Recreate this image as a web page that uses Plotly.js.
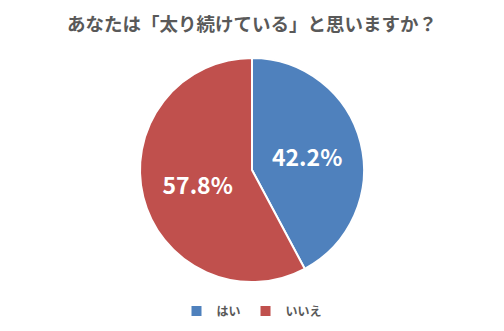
<!DOCTYPE html>
<html><head><meta charset="utf-8">
<script src="https://cdn.plot.ly/plotly-3.0.1.min.js"></script>
<style>html,body{margin:0;padding:0;background:#fff}</style>
</head><body><div id="chart" style="width:504px;height:331px"></div>
<script>
const labels = ["はい", "いいえ"];
const values = [42.2, 57.8];
const colors = ["#4F81BD", "#C0504D"];
const font = '"Noto Sans CJK JP", "Noto Sans", sans-serif';
Plotly.newPlot("chart", [{
  type: "pie",
  labels: labels,
  values: values,
  sort: false,
  direction: "clockwise",
  rotation: 0,
  marker: {colors: colors, line: {color: "#ffffff", width: 2}},
  texttemplate: "<b>%{value:.1f}%</b>",
  textposition: "inside",
  insidetextorientation: "horizontal",
  textfont: {color: "#ffffff", size: 23, family: font},
  hoverinfo: "none",
  domain: {x: [140/504, 364/504], y: [49/331, 273/331]}
}], {
  width: 504, height: 331,
  margin: {l: 0, r: 0, t: 0, b: 0},
  paper_bgcolor: "#ffffff",
  title: {text: "<b>あなたは「太り続けている」と思いますか？</b>", font: {family: font, size: 18.5, color: "#595959"}, x: 0.5, xanchor: "center", y: 1 - 25/331, yanchor: "middle"},
  showlegend: true,
  legend: {orientation: "h", x: 0.5, xanchor: "center", y: 1 - 311/331, yanchor: "middle", font: {family: font, size: 12, color: "#595959", weight: "bold"}, itemwidth: 30, traceorder: "normal"}
}, {displayModeBar: false, staticPlot: true});
</script></body></html>
